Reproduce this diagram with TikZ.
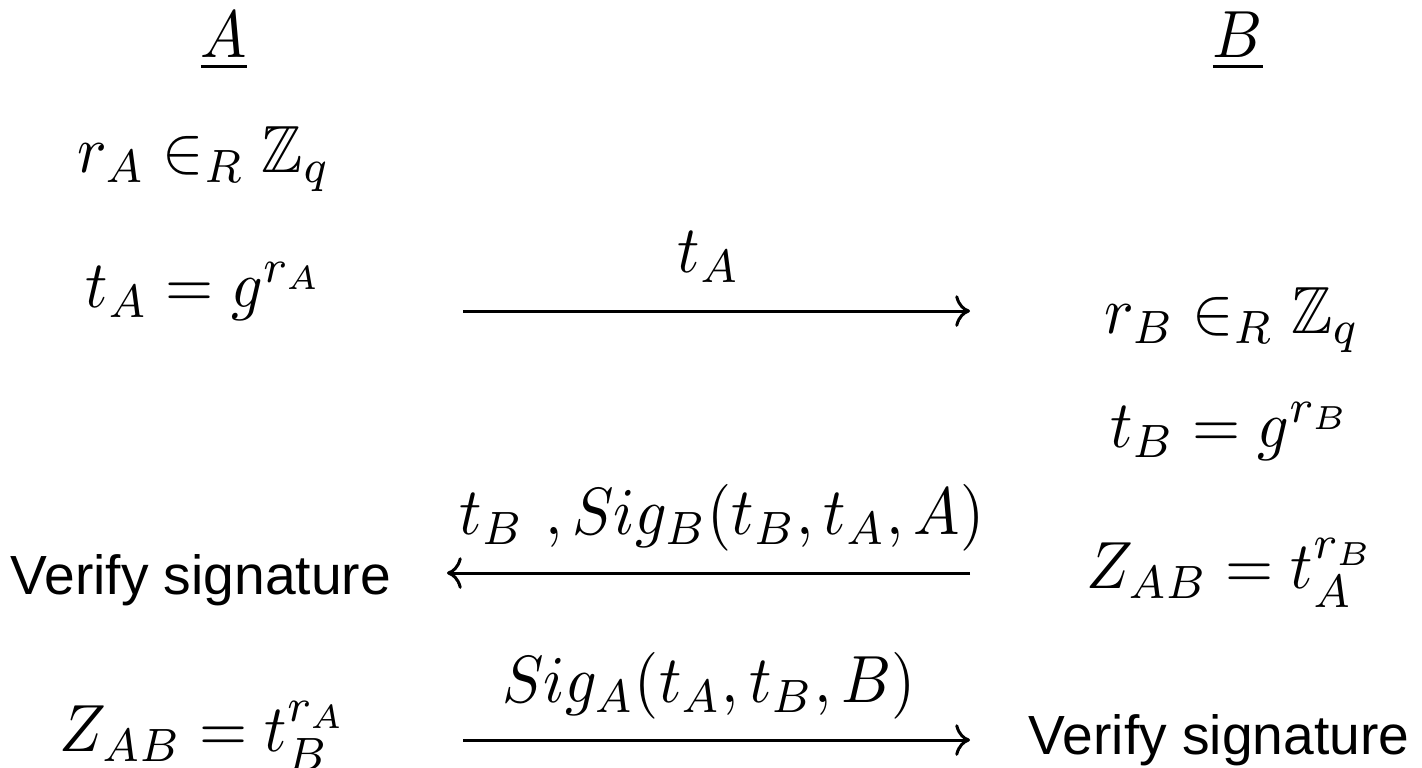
\documentclass[tikz,border=0pt]{standalone}
\usepackage{amsmath,amssymb}
\usepackage{fontspec}
\setsansfont{Liberation Sans}
\usetikzlibrary{arrows.meta,positioning}

\tikzset{
  eq/.style={anchor=base,inner sep=0pt,xscale=1.76,yscale=1.9},
  note/.style={anchor=base,inner sep=0pt,font=\sffamily\fontsize{15.7}{19}\selectfont},
  msg/.style={line width=0.85pt,-{Computer Modern Rightarrow[width=9pt,length=4.2pt]}}
}

\begin{document}
\begin{tikzpicture}
  \useasboundingbox (0,0) rectangle (14.22,-7.67);
  % Parties
  \foreach \p/\x in {A/2.24,B/12.38} {
    \node[eq] (hd\p) at (\x,-0.57) {$\underline{\p}$};
  }
  % Side A
  \node[eq] (rA) at (2.04,-1.72) {$r_A \in_R \mathbb{Z}_q$};
  \node[eq] (tA) at (2.05,-3.07) {$t_A = g^{r_A}$};
  \node[note,anchor=base west] (vA) at (0.10,-5.94) {Verify signature};
  \node[eq] (zA) at (2.04,-7.51) {$Z_{AB} = t_B^{r_A}$};

  % Side B
  \node[eq] (rB) at (12.32,-3.33) {$r_B \in_R \mathbb{Z}_q$};
  \node[eq] (tB) at (12.31,-4.47) {$t_B = g^{r_B}$};
  \node[eq] (zB) at (12.31,-5.88) {$Z_{AB} = t_A^{r_B}$};
  \node[note,anchor=base east] (vB) at (14.10,-7.54) {Verify signature};

  % Messages
  \coordinate (m1a) at (4.63,-3.11);
  \coordinate (m1b) at (9.70,-3.11);
  \coordinate (m2a) at (4.47,-5.73);
  \coordinate (m2b) at (9.70,-5.73);
  \coordinate (m3a) at (4.63,-7.40);
  \coordinate (m3b) at (9.70,-7.40);
  \node[eq] (l1) at (7.09,-2.72) {$t_A$};
  \node[eq] (l2) at (7.22,-5.34) {$t_B\ , Sig_B(t_B, t_A, A)$};
  \node[eq] (l3) at (7.09,-7.02) {$Sig_A(t_A, t_B, B)$};
  \draw[msg] (m1a) -- (m1b);
  \draw[msg] (m2b) -- (m2a);
  \draw[msg] (m3a) -- (m3b);
\end{tikzpicture}
\end{document}
